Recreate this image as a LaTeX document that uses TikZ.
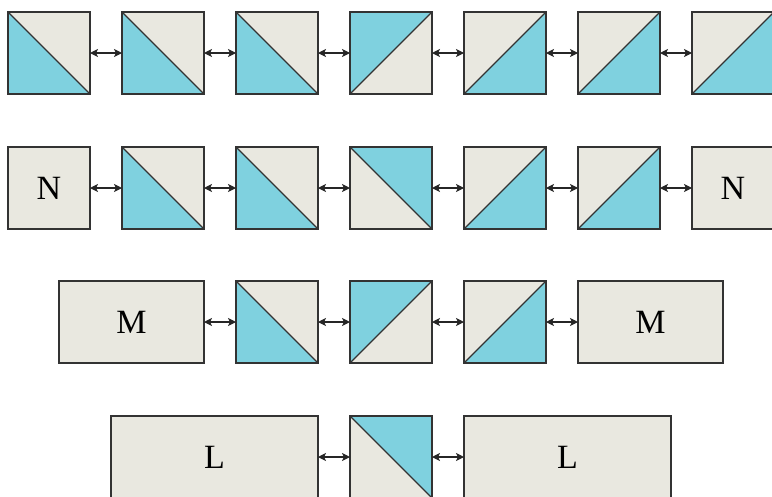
\documentclass[tikz,border=0pt]{standalone}
\usepackage{fontspec}
\newfontfamily\labelfont{Liberation Serif}
\usetikzlibrary{arrows.meta}
\definecolor{tealfill}{HTML}{7FD1DF}
\definecolor{beige}{HTML}{E9E8E0}
\definecolor{edge}{HTML}{333333}
\begin{document}
\begin{tikzpicture}[x=1pt,y=-1pt,
  box/.style={draw=edge,line width=1.1pt,fill=beige,inner sep=0pt,outer sep=0pt,
    minimum height=82pt,font=\fontsize{34}{40}\selectfont\labelfont},
  sq/.style={box,minimum width=82pt},
  wbox/.style={box,minimum width=#1},
  tA/.style={sq,path picture={
    \fill[tealfill] (path picture bounding box.south west) -- (path picture bounding box.north west) -- (path picture bounding box.south east) -- cycle;
    \draw[edge,line width=1.1pt] (path picture bounding box.north west) -- (path picture bounding box.south east);}},
  tB/.style={sq,path picture={
    \fill[tealfill] (path picture bounding box.south west) -- (path picture bounding box.north west) -- (path picture bounding box.north east) -- cycle;
    \draw[edge,line width=1.1pt] (path picture bounding box.south west) -- (path picture bounding box.north east);}},
  tC/.style={sq,path picture={
    \fill[tealfill] (path picture bounding box.south west) -- (path picture bounding box.south east) -- (path picture bounding box.north east) -- cycle;
    \draw[edge,line width=1.1pt] (path picture bounding box.south west) -- (path picture bounding box.north east);}},
  tD/.style={sq,path picture={
    \fill[tealfill] (path picture bounding box.north west) -- (path picture bounding box.north east) -- (path picture bounding box.south east) -- cycle;
    \draw[edge,line width=1.1pt] (path picture bounding box.north west) -- (path picture bounding box.south east);}},
  link/.style={draw=black!85,line width=1.1pt,{Stealth[length=8pt,width=8pt,inset=2pt]}-{Stealth[length=8pt,width=8pt,inset=2pt]}}
]
\useasboundingbox (0,0) rectangle (772,496);
% row 1
\node[tA] (a1) at (49,53) {};
\node[tA] (a2) at (163,53) {};
\node[tA] (a3) at (277,53) {};
\node[tB] (a4) at (391,53) {};
\node[tC] (a5) at (505,53) {};
\node[tC] (a6) at (619,53) {};
\node[tC] (a7) at (733,53) {};
% row 2
\node[sq] (b1) at (49,188) {N};
\node[tA] (b2) at (163,188) {};
\node[tA] (b3) at (277,188) {};
\node[tD] (b4) at (391,188) {};
\node[tC] (b5) at (505,188) {};
\node[tC] (b6) at (619,188) {};
\node[sq] (b7) at (733,188) {N};
% row 3
\node[wbox=145pt] (c1) at (131.5,322) {M};
\node[tA] (c2) at (277,322) {};
\node[tB] (c3) at (391,322) {};
\node[tC] (c4) at (505,322) {};
\node[wbox=145pt] (c5) at (650.5,322) {M};
% row 4
\node[wbox=207pt] (d1) at (214.5,457) {L};
\node[tD] (d2) at (391,457) {};
\node[wbox=207pt] (d3) at (567.5,457) {L};
% links
\foreach \u/\v in {a1/a2,a2/a3,a3/a4,a4/a5,a5/a6,a6/a7,
                   b1/b2,b2/b3,b3/b4,b4/b5,b5/b6,b6/b7,
                   c1/c2,c2/c3,c3/c4,c4/c5,
                   d1/d2,d2/d3}
  \draw[link] (\u.east) -- (\v.west);
\end{tikzpicture}
\end{document}
